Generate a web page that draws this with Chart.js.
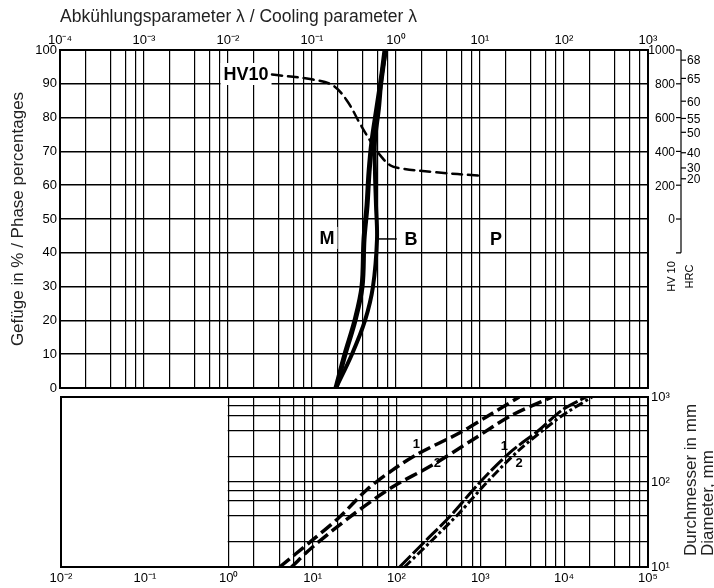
<!DOCTYPE html>
<html lang="de">
<head>
<meta charset="UTF-8">
<title>Abkühlungsparameter / Cooling parameter</title>
<script src="https://cdn.jsdelivr.net/npm/chart.js"></script>
<style>
  body { margin: 0; background: #fff; }
  #wrap { position: relative; width: 714px; height: 588px; overflow: hidden; }
  #topChart { position: absolute; left: 0; top: 0; }
  #bottomChart { position: absolute; left: 0; top: 384px; }
</style>
</head>
<body>
<div id="wrap">
  <canvas id="topChart" width="714" height="400"></canvas>
  <canvas id="bottomChart" width="714" height="204"></canvas>
</div>

<script>
// --- top diagram: phase percentage vs cooling parameter lambda ---
const mLambda = [0.193, 0.247, 0.325, 0.394, 0.416, 0.452, 0.478, 0.518, 0.594, 0.681, 0.74];
const mPct    = [0, 10, 20, 30, 44, 54, 64, 73, 83, 93, 100];
const bLambda = [0.193, 0.299, 0.428, 0.532, 0.594, 0.578, 0.562, 0.562, 0.628, 0.681, 0.76];
const bPct    = [0, 10, 20, 30, 44, 54, 64, 73, 83, 93, 100];

// hardness HV10 (dashed)
const hvLambda = [0.0334, 0.103, 0.178, 0.261, 0.372, 0.49, 0.646, 0.85, 1.12, 2.76, 10.6];
const hvValues = [855, 825, 790, 700, 565, 465, 378, 318, 300, 278, 255];

// hardness ruler on the right
const hvTicks  = [0, 200, 400, 600, 800, 1000];
const hrcTicks = [68, 65, 60, 55, 50, 40, 30, 20];
const hrcAtHV  = [940, 832, 697, 595, 513, 392, 302, 238];

// --- bottom diagram: diameter vs time ---
const tDashed1 = [4.05, 10, 21, 44, 89.6, 188, 562, 1178, 2911];
const dDashed1 = [10, 20.8, 38.7, 80.5, 138, 219, 377, 582, 1000];
const tDashed2 = [5.6, 10, 29.9, 89.6, 268, 804, 2404, 7197];
const dDashed2 = [10, 17.2, 40.9, 87.3, 158, 312, 614, 1000];
const tDashDot1 = [109, 228, 428, 973, 2215, 5036, 9470, 18270];
const dDashDot1 = [10, 20.8, 38.7, 97.3, 219, 409, 703, 1000];
const tDashDot2 = [125, 268, 562, 1279, 2911, 7197, 10560, 21530];
const dDashDot2 = [10, 20.8, 43.2, 106, 238, 494, 649, 1000];

Chart.defaults.font.family = '"Liberation Sans", Arial, sans-serif';
Chart.defaults.color = '#000';

const SUP = {'-': '⁻', '0': '⁰', '1': '¹', '2': '²', '3': '³', '4': '⁴', '5': '⁵', '6': '⁶', '7': '⁷', '8': '⁸', '9': '⁹'};

function pow10Label(v) {
  const e = Math.round(Math.log10(v));
  if (Math.abs(v / Math.pow(10, e) - 1) > 1e-6) return '';
  return '10' + String(e).split('').map(c => SUP[c]).join('');
}

// grid lines at 1, 2, 4, 6, 8 of every decade
function logGrid(fromExp, toExp) {
  const out = [];
  for (let e = fromExp; e < toExp; e++) {
    for (const m of [1, 2, 4, 6, 8]) out.push(Number((m * Math.pow(10, e)).toPrecision(6)));
  }
  out.push(Math.pow(10, toExp));
  return out;
}

function pts(xs, ys) {
  return xs.map((x, i) => ({ x: x, y: ys[i] }));
}

// frame round the plot area
const frame = {
  id: 'frame',
  afterDraw(chart) {
    const { ctx, chartArea: a } = chart;
    ctx.save();
    ctx.lineWidth = 2;
    ctx.strokeStyle = '#000';
    ctx.strokeRect(a.left, a.top, a.right - a.left, a.bottom - a.top);
    ctx.restore();
  }
};

// text marks placed in data coordinates
const textMarks = {
  id: 'textMarks',
  beforeDatasetsDraw(chart, args, opts) {
    const ctx = chart.ctx;
    const xs = chart.scales.x, ys = chart.scales[opts.yAxis || 'y'];
    ctx.save();
    ctx.strokeStyle = '#000';
    ctx.lineWidth = 1.5;
    (opts.leaders || []).forEach(l => {
      ctx.beginPath();
      ctx.moveTo(xs.getPixelForValue(l.x1), ys.getPixelForValue(l.y1));
      ctx.lineTo(xs.getPixelForValue(l.x2), ys.getPixelForValue(l.y2));
      ctx.stroke();
    });
    ctx.font = opts.font;
    ctx.textAlign = 'center';
    ctx.textBaseline = 'middle';
    opts.items.forEach(it => {
      const px = xs.getPixelForValue(it.x), py = ys.getPixelForValue(it.y);
      const w = ctx.measureText(it.text).width;
      if (opts.box) {
        ctx.fillStyle = '#fff';
        ctx.fillRect(px - w / 2 - 3, py - opts.size / 2 - 3, w + 6, opts.size + 6);
      }
      ctx.fillStyle = '#000';
      ctx.fillText(it.text, px, py + 1);
    });
    ctx.restore();
  }
};

// HV10 / HRC ruler right of the top diagram
const hvRuler = {
  id: 'hvRuler',
  afterDraw(chart) {
    const s = chart.scales.yHV, ctx = chart.ctx;
    const x0 = chart.chartArea.right + 33;
    ctx.save();
    ctx.strokeStyle = '#000';
    ctx.fillStyle = '#000';
    ctx.lineWidth = 1.2;
    ctx.beginPath();
    ctx.moveTo(x0, s.getPixelForValue(1000));
    ctx.lineTo(x0, s.getPixelForValue(-200));
    ctx.moveTo(x0 - 5, s.getPixelForValue(-200));
    ctx.lineTo(x0, s.getPixelForValue(-200));
    ctx.stroke();
    ctx.font = '12px "Liberation Sans", Arial, sans-serif';
    ctx.textBaseline = 'middle';
    ctx.textAlign = 'right';
    hvTicks.forEach(v => {
      const y = s.getPixelForValue(v);
      ctx.beginPath(); ctx.moveTo(x0 - 5, y); ctx.lineTo(x0, y); ctx.stroke();
      ctx.fillText(String(v), x0 - 6, y + 1);
    });
    ctx.textAlign = 'left';
    hrcTicks.forEach((h, i) => {
      const y = s.getPixelForValue(hrcAtHV[i]);
      ctx.beginPath(); ctx.moveTo(x0, y); ctx.lineTo(x0 + 5, y); ctx.stroke();
      ctx.fillText(String(h), x0 + 6, y + 1);
    });
    ctx.font = '11px "Liberation Sans", Arial, sans-serif';
    ctx.textAlign = 'center';
    const yl = s.getPixelForValue(-340);
    ctx.translate(x0 - 9, yl);
    ctx.rotate(-Math.PI / 2);
    ctx.fillText('HV 10', 0, 0);
    ctx.fillText('HRC', 0, 18);
    ctx.restore();
  }
};

new Chart(document.getElementById('topChart'), {
  type: 'scatter',
  data: {
    datasets: [
      { data: pts(mLambda, mPct), showLine: true, borderWidth: 5 },
      { data: pts(bLambda, bPct), showLine: true, borderWidth: 4 },
      { data: pts(hvLambda, hvValues), yAxisID: 'yHV', showLine: true, borderWidth: 2.5, borderDash: [10, 6] }
    ]
  },
  options: {
    responsive: false,
    animation: false,
    events: [],
    layout: { padding: { left: 0, top: 0, right: 66, bottom: 12 } },
    elements: {
      point: { radius: 0 },
      line: { borderColor: '#000', tension: 0.35, fill: false, borderCapStyle: 'round', borderJoinStyle: 'round' }
    },
    plugins: {
      legend: { display: false },
      tooltip: { enabled: false },
      textMarks: {
        font: 'bold 18px "Liberation Sans", Arial, sans-serif',
        size: 16,
        box: true,
        items: [
          { text: 'HV10', x: 0.0164, y: 92.9 },
          { text: 'M', x: 0.151, y: 44.4 },
          { text: 'B', x: 1.51, y: 44.1 },
          { text: 'P', x: 15.5, y: 44.1 }
        ],
        leaders: [{ x1: 0.6, y1: 44.1, x2: 1.02, y2: 44.1 }]
      }
    },
    scales: {
      x: {
        type: 'logarithmic',
        position: 'top',
        min: 1e-4,
        max: 1e3,
        afterBuildTicks: s => { s.ticks = logGrid(-4, 3).map(v => ({ value: v })); },
        afterFit: s => { s.height = 50; },
        ticks: { autoSkip: false, maxRotation: 0, padding: 2, font: { size: 13 }, callback: v => pow10Label(v) },
        grid: { color: '#000', lineWidth: 1.2, drawTicks: false },
        border: { display: false },
        title: {
          display: true,
          text: 'Abkühlungsparameter λ / Cooling parameter λ',
          align: 'start',
          color: '#222',
          font: { size: 17.5 },
          padding: { top: 7, bottom: 0 }
        }
      },
      y: {
        min: 0,
        max: 100,
        afterFit: s => { s.width = 60; },
        ticks: { stepSize: 10, padding: 3, font: { size: 13 } },
        grid: { color: '#000', lineWidth: 1.5, drawTicks: false },
        border: { display: false },
        title: {
          display: true,
          text: 'Gefüge in % / Phase percentages',
          color: '#222',
          font: { size: 17 },
          padding: { top: 8, bottom: 0 }
        }
      },
      yHV: { type: 'linear', display: false, min: -1000, max: 1000 }
    }
  },
  plugins: [textMarks, frame, hvRuler]
});

// blank left part of the lower diagram (no grid below 10^0)
const blankLeft = {
  id: 'blankLeft',
  beforeDatasetsDraw(chart) {
    const { ctx, chartArea: a } = chart;
    const x1 = chart.scales.x.getPixelForValue(1);
    ctx.save();
    ctx.fillStyle = '#fff';
    ctx.fillRect(a.left, a.top, x1 - a.left - 1, a.bottom - a.top);
    ctx.restore();
  }
};

const diaTitle = {
  id: 'diaTitle',
  afterDraw(chart) {
    const { ctx, chartArea: a } = chart;
    ctx.save();
    ctx.fillStyle = '#222';
    ctx.font = '17px "Liberation Sans", Arial, sans-serif';
    ctx.textAlign = 'left';
    ctx.textBaseline = 'middle';
    ctx.translate(a.right + 43, a.bottom - 11);
    ctx.rotate(-Math.PI / 2);
    ctx.fillText('Durchmesser in mm', 0, 0);
    ctx.fillText('Diameter, mm', 0, 17);
    ctx.restore();
  }
};

new Chart(document.getElementById('bottomChart'), {
  type: 'scatter',
  data: {
    datasets: [
      { data: pts(tDashed1, dDashed1), showLine: true, borderWidth: 3.5, borderDash: [13, 5] },
      { data: pts(tDashed2, dDashed2), showLine: true, borderWidth: 3.5, borderDash: [13, 5] },
      { data: pts(tDashDot1, dDashDot1), showLine: true, borderWidth: 3, borderDash: [16, 3] },
      { data: pts(tDashDot2, dDashDot2), showLine: true, borderWidth: 3, borderDash: [9, 3, 3, 3] }
    ]
  },
  options: {
    responsive: false,
    animation: false,
    events: [],
    layout: { padding: { left: 61, top: 13, right: 0, bottom: 0 } },
    elements: {
      point: { radius: 0 },
      line: { borderColor: '#000', tension: 0.3, fill: false }
    },
    plugins: {
      legend: { display: false },
      tooltip: { enabled: false },
      textMarks: {
        font: 'bold 13px "Liberation Sans", Arial, sans-serif',
        size: 12,
        box: false,
        items: [
          { text: '1', x: 173, y: 288 },
          { text: '2', x: 308, y: 172 },
          { text: '1', x: 1931, y: 272 },
          { text: '2', x: 2911, y: 172 }
        ]
      }
    },
    scales: {
      x: {
        type: 'logarithmic',
        position: 'bottom',
        min: 1e-2,
        max: 1e5,
        afterBuildTicks: s => { s.ticks = [0.01, 0.1].concat(logGrid(0, 5)).map(v => ({ value: v })); },
        afterFit: s => { s.height = 21; },
        ticks: { autoSkip: false, maxRotation: 0, padding: 4, font: { size: 13 }, callback: v => pow10Label(v) },
        grid: {
          color: c => (c.tick && c.tick.value < 0.99 ? 'rgba(0,0,0,0)' : '#000'),
          lineWidth: 1.2,
          drawTicks: false
        },
        border: { display: false }
      },
      y: {
        type: 'logarithmic',
        position: 'right',
        min: 10,
        max: 1000,
        afterBuildTicks: s => { s.ticks = logGrid(1, 3).map(v => ({ value: v })); },
        afterFit: s => { s.width = 66; },
        ticks: { autoSkip: false, padding: 3, font: { size: 13 }, callback: v => pow10Label(v) },
        grid: { color: '#000', lineWidth: 1.2, drawTicks: false },
        border: { display: false }
      }
    }
  },
  plugins: [blankLeft, textMarks, frame, diaTitle]
});
</script>
</body>
</html>
